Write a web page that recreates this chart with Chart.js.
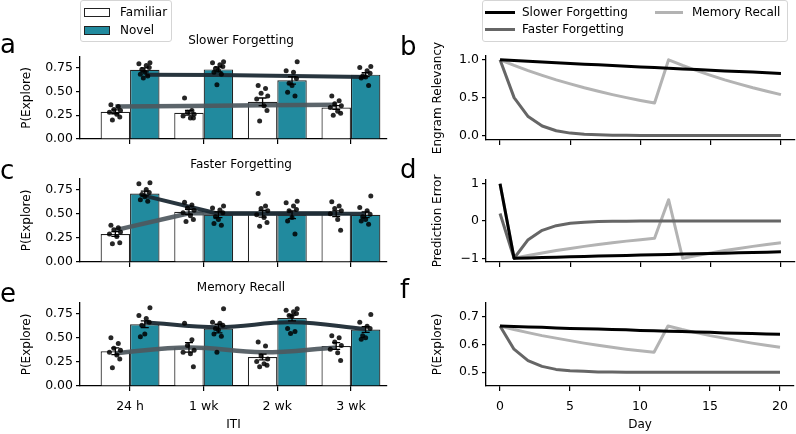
<!DOCTYPE html>
<html><head><meta charset="utf-8">
<script src="https://cdn.jsdelivr.net/npm/chart.js@4.4.1/dist/chart.umd.min.js"></script>
<style>
html,body{margin:0;padding:0;background:#fff;}
#wrap{position:relative;width:796px;height:434px;overflow:hidden;font-family:"DejaVu Sans",sans-serif;color:#000;background:#fff;}
canvas{position:absolute;left:0;top:0;}
.t{position:absolute;font-size:12px;line-height:14px;white-space:nowrap;}
.ttl{position:absolute;font-size:12px;line-height:14px;white-space:nowrap;width:200px;text-align:center;}
.letter{position:absolute;font-size:26px;line-height:26px;font-family:"DejaVu Sans",sans-serif;}
.leg{position:absolute;border:1px solid #d5d5d5;border-radius:3px;background:rgba(255,255,255,0.85);box-sizing:border-box;}
.sw{position:absolute;box-sizing:border-box;}
</style></head><body><div id="wrap">
<canvas id="ca" width="796" height="434"></canvas>
<canvas id="cc" width="796" height="434"></canvas>
<canvas id="ce" width="796" height="434"></canvas>
<canvas id="cb" width="796" height="434"></canvas>
<canvas id="cd" width="796" height="434"></canvas>
<canvas id="cf" width="796" height="434"></canvas>

<div class="leg" style="left:80px;top:0px;width:92px;height:42px;"></div>
<div class="sw" style="left:84px;top:8px;width:26px;height:9px;background:#fff;border:1px solid #222;"></div>
<div class="t" style="left:120px;top:5px;">Familiar</div>
<div class="sw" style="left:84px;top:26px;width:26px;height:9px;background:#218a9e;border:1px solid #222;"></div>
<div class="t" style="left:120px;top:23px;">Novel</div>

<div class="leg" style="left:482px;top:0px;width:306px;height:42px;"></div>
<div class="sw" style="left:485px;top:11px;width:30px;height:3px;background:#000;"></div>
<div class="t" style="left:522px;top:5px;">Slower Forgetting</div>
<div class="sw" style="left:485px;top:28px;width:30px;height:3px;background:#666;"></div>
<div class="t" style="left:522px;top:22px;">Faster Forgetting</div>
<div class="sw" style="left:655px;top:11px;width:28px;height:3px;background:#b3b3b3;"></div>
<div class="t" style="left:692px;top:5px;">Memory Recall</div>

<div class="ttl" style="left:141px;top:33px;">Slower Forgetting</div>
<div class="ttl" style="left:141px;top:157px;">Faster Forgetting</div>
<div class="ttl" style="left:141px;top:280px;">Memory Recall</div>

<div class="letter" style="left:0px;top:31px;">a</div>
<div class="letter" style="left:400px;top:33px;">b</div>
<div class="letter" style="left:0px;top:157px;">c</div>
<div class="letter" style="left:400px;top:156px;">d</div>
<div class="letter" style="left:0px;top:280px;">e</div>
<div class="letter" style="left:400px;top:276px;">f</div>
</div>
<script>
// ---------- data ----------
const itiLabels = ['24 h', '1 wk', '2 wk', '3 wk'];
const jitter = [-0.06, 0.04, -0.02, 0.07, -0.08, 0.02, 0.06, -0.04, 0.0];

// Panel a: Slower Forgetting
const slowFamMean = [0.285, 0.275, 0.39, 0.33];
const slowNovMean = [0.725, 0.73, 0.615, 0.675];
const slowFamSem = [0.02, 0.025, 0.04, 0.02];
const slowNovSem = [0.02, 0.025, 0.04, 0.02];
const slowFamDots = [[0.36,0.34,0.31,0.30,0.28,0.26,0.23,0.20],[0.43,0.30,0.28,0.26,0.24,0.22,0.22],[0.56,0.53,0.48,0.45,0.42,0.35,0.30,0.19],[0.45,0.40,0.37,0.35,0.33,0.29,0.27,0.25]];
const slowNovDots = [[0.80,0.79,0.77,0.75,0.73,0.70,0.68,0.66,0.64],[0.81,0.80,0.78,0.76,0.74,0.72,0.70,0.68,0.57],[0.81,0.715,0.70,0.635,0.586,0.56,0.49,0.45],[0.76,0.75,0.715,0.69,0.66,0.65,0.64,0.56]];
const slowFamModel = [0.34, 0.345, 0.355, 0.36];
const slowNovModel = [0.675, 0.67, 0.66, 0.65];

// Panel c: Faster Forgetting
const fastFamMean = [0.29, 0.52, 0.50, 0.50];
const fastNovMean = [0.71, 0.49, 0.49, 0.49];
const fastFamSem = [0.025, 0.025, 0.035, 0.03];
const fastNovSem = [0.025, 0.03, 0.04, 0.03];
const fastFamDots = [[0.38,0.355,0.335,0.31,0.29,0.265,0.20,0.19],[0.62,0.59,0.56,0.535,0.51,0.48,0.44,0.42],[0.71,0.58,0.555,0.53,0.49,0.46,0.41,0.37],[0.625,0.58,0.555,0.53,0.50,0.44,0.33]];
const fastNovDots = [[0.82,0.81,0.75,0.72,0.70,0.675,0.645,0.63],[0.58,0.56,0.54,0.51,0.47,0.44,0.40,0.38],[0.63,0.615,0.58,0.545,0.53,0.46,0.425,0.29],[0.685,0.565,0.53,0.495,0.47,0.44,0.425,0.39]];
const fastFamModel = [0.33, 0.505, 0.505, 0.505];
const fastNovModel = [0.685, 0.50, 0.50, 0.50];

// Panel e: Memory Recall
const recFamMean = [0.36, 0.40, 0.30, 0.415];
const recNovMean = [0.64, 0.595, 0.705, 0.585];
const recFamSem = [0.035, 0.05, 0.03, 0.035];
const recNovSem = [0.035, 0.045, 0.03, 0.03];
const recFamDots = [[0.50,0.44,0.39,0.37,0.35,0.32,0.28,0.19],[0.65,0.48,0.42,0.37,0.35,0.335,0.20],[0.455,0.415,0.31,0.28,0.255,0.23,0.215,0.20],[0.52,0.50,0.455,0.42,0.38,0.345,0.265]];
const recNovDots = [[0.81,0.73,0.70,0.66,0.63,0.54,0.51],[0.80,0.66,0.65,0.63,0.595,0.58,0.54,0.515,0.35],[0.80,0.785,0.77,0.75,0.73,0.725,0.595,0.565,0.545],[0.74,0.66,0.62,0.595,0.52,0.50,0.485]];
const recFamModel = [0.34, 0.40, 0.35, 0.40];
const recNovModel = [0.66, 0.61, 0.66, 0.59];

// Right panels (days)
const days = [0,1,2,3,4,5,6,7,8,9,10,11,12,13,14,15,16,17,18,19,20];
const relSlow = [1.00,0.99,0.98,0.97,0.96,0.95,0.94,0.933,0.924,0.915,0.906,0.897,0.888,0.879,0.87,0.862,0.853,0.845,0.837,0.828,0.82];
const relFast = [1.0,0.5,0.25,0.125,0.0625,0.031,0.016,0.008,0.004,0.002,0.001,0,0,0,0,0,0,0,0,0,0];
const relRecall = [1.0,0.926,0.857,0.794,0.735,0.681,0.630,0.584,0.540,0.500,0.463,0.429,1.0,0.926,0.857,0.794,0.735,0.681,0.630,0.584,0.540];
const peSlow = [1.0,-1.0,-0.99,-0.98,-0.97,-0.96,-0.95,-0.94,-0.933,-0.924,-0.915,-0.906,-0.897,-0.888,-0.879,-0.87,-0.862,-0.853,-0.845,-0.837,-0.828];
const peFast = [0.2,-1.0,-0.5,-0.25,-0.125,-0.0625,-0.031,-0.016,-0.008,-0.004,-0.002,-0.001,0,0,0,0,0,0,0,0,0];
const peRecall = [1.0,-1.0,-0.926,-0.857,-0.794,-0.735,-0.681,-0.630,-0.584,-0.540,-0.500,-0.463,0.571,-1.0,-0.926,-0.857,-0.794,-0.735,-0.681,-0.630,-0.584];
const pSlow = [0.667,0.665,0.663,0.662,0.660,0.658,0.657,0.656,0.654,0.653,0.651,0.650,0.648,0.647,0.645,0.644,0.642,0.641,0.640,0.638,0.637];
const pFast = [0.667,0.583,0.542,0.521,0.510,0.505,0.503,0.501,0.501,0.500,0.500,0.500,0.500,0.500,0.500,0.500,0.500,0.500,0.500,0.500,0.500];
const pRecall = [0.667,0.654,0.643,0.632,0.623,0.614,0.605,0.597,0.590,0.583,0.577,0.572,0.667,0.654,0.643,0.632,0.623,0.614,0.605,0.597,0.590];

const barYTicks = [0, 0.25, 0.5, 0.75];
const barYLabels = ['0.00', '0.25', '0.50', '0.75'];
const dayTicks = [0, 5, 10, 15, 20];
const dayLabels = ['0', '5', '10', '15', '20'];

// ---------- styling / helpers ----------
const FONT = "'DejaVu Sans', sans-serif";
Chart.defaults.font.family = FONT;
Chart.defaults.font.size = 12;
Chart.defaults.color = '#000';
Chart.defaults.animation = false;
Chart.defaults.plugins.legend.display = false;
Chart.defaults.plugins.tooltip.enabled = false;

const W = 796, H = 434;
const TEAL = '#218a9e';
const TICK_FONT = { size: 12.5 };

const errorBars = {
  id: 'errorBars',
  afterDatasetsDraw(chart) {
    const ctx = chart.ctx, ys = chart.scales.y;
    chart.data.datasets.forEach((ds, di) => {
      if (!ds.sem) return;
      const meta = chart.getDatasetMeta(di);
      meta.data.forEach((el, i) => {
        const m = ds.data[i].y, s = ds.sem[i];
        const x = el.x, y1 = ys.getPixelForValue(m - s), y2 = ys.getPixelForValue(m + s);
        ctx.save();
        ctx.strokeStyle = '#000'; ctx.lineWidth = 1.3;
        ctx.beginPath();
        ctx.moveTo(x, y1); ctx.lineTo(x, y2);
        ctx.moveTo(x - 4, y1); ctx.lineTo(x + 4, y1);
        ctx.moveTo(x - 4, y2); ctx.lineTo(x + 4, y2);
        ctx.stroke();
        ctx.restore();
      });
    });
  }
};

function axisCommon() {
  return {
    grid: { display: true, drawOnChartArea: false, drawTicks: true, tickLength: 4, color: '#000', lineWidth: 1.2, offset: false },
    border: { display: true, color: '#000', width: 1.3 }
  };
}

function yAxis(min, max, tickVals, tickLabels, title, boxLeft, chartLeft, titleCx) {
  return Object.assign(axisCommon(), {
    type: 'linear', position: 'left', min, max,
    afterFit: s => { s.width = chartLeft - boxLeft; },
    afterBuildTicks: s => { s.ticks = tickVals.map(v => ({ value: v })); },
    ticks: { callback: (v, i) => tickLabels[i], padding: 3, font: TICK_FONT, color: '#000' },
    title: { display: true, text: title, font: { size: 12 }, color: '#000', padding: { top: titleCx - boxLeft - 7.2, bottom: 0 } }
  });
}

function xAxis(min, max, tickVals, tickLabels, showLabels, title, height) {
  const a = axisCommon();
  a.grid.tickLength = 5;
  return Object.assign(a, {
    type: 'linear', position: 'bottom', min, max, offset: false,
    afterFit: s => { s.height = height; },
    afterBuildTicks: s => { s.ticks = tickVals.map(v => ({ value: v })); },
    ticks: { display: showLabels, callback: (v, i) => tickLabels[i], padding: 8, autoSkip: false, maxRotation: 0, font: TICK_FONT, color: '#000' },
    title: { display: showLabels, text: title, font: { size: 12 }, color: '#000', padding: { top: 0, bottom: 2 } }
  });
}

function barPanel(id, d, top, bottom, showX, tension) {
  const left = 80, right = 387;
  const xH = showX ? H - bottom : 10;
  const dots = [];
  d.famDots.forEach((arr, i) => arr.forEach((v, k) => dots.push({ x: i - 0.2 + jitter[k % jitter.length], y: v })));
  d.novDots.forEach((arr, i) => arr.forEach((v, k) => dots.push({ x: i + 0.2 + jitter[(k + 3) % jitter.length], y: v })));
  new Chart(document.getElementById(id), {
    type: 'bar',
    data: {
      datasets: [
        { type: 'scatter', data: dots, pointRadius: 2.5, pointBackgroundColor: 'rgba(0,0,0,0.85)', pointBorderWidth: 0, order: 0 },
        { type: 'line', data: d.novModel.map((v, i) => ({ x: i + 0.2, y: v })), borderColor: 'rgba(28,42,52,0.95)', borderWidth: 4, pointRadius: 0, tension, borderJoinStyle: 'round', order: 1 },
        { type: 'line', data: d.famModel.map((v, i) => ({ x: i - 0.2, y: v })), borderColor: 'rgba(78,88,94,0.92)', borderWidth: 4.5, pointRadius: 0, tension, borderJoinStyle: 'round', order: 2 },
        { type: 'bar', label: 'Familiar', data: d.fam.map((v, i) => ({ x: i, y: v })), sem: d.famSem, backgroundColor: '#ffffff', borderColor: '#222', borderWidth: 1.2, borderSkipped: 'start', categoryPercentage: 0.8, barPercentage: 1.0, order: 3 },
        { type: 'bar', label: 'Novel', data: d.nov.map((v, i) => ({ x: i, y: v })), sem: d.novSem, backgroundColor: TEAL, borderColor: '#222', borderWidth: 1.2, borderSkipped: 'start', categoryPercentage: 0.8, barPercentage: 1.0, order: 3 }
      ]
    },
    options: {
      responsive: false, devicePixelRatio: 1,
      layout: { padding: { left: 0, right: W - right, top: top, bottom: H - bottom - xH } },
      scales: {
        x: xAxis(-0.68, 3.49, [0, 1, 2, 3], itiLabels, showX, 'ITI', xH),
        y: yAxis(0, 0.86, barYTicks, barYLabels, 'P(Explore)', 0, left, 27)
      }
    },
    plugins: [errorBars]
  });
}

function linePanel(id, s1, s2, s3, ymin, ymax, yTicks, yLabels, ytitle, top, bottom, showX) {
  const left = 486, right = 795, boxLeft = 400;
  const xH = showX ? H - bottom : 10;
  const pts = arr => days.map((d, i) => ({ x: d, y: arr[i] }));
  new Chart(document.getElementById(id), {
    type: 'line',
    data: {
      datasets: [
        { label: 'Slower Forgetting', data: pts(s1), borderColor: '#000', borderWidth: 3, pointRadius: 0, order: 0, borderJoinStyle: 'round' },
        { label: 'Faster Forgetting', data: pts(s2), borderColor: '#666', borderWidth: 3, pointRadius: 0, order: 1, borderJoinStyle: 'round' },
        { label: 'Memory Recall', data: pts(s3), borderColor: '#b3b3b3', borderWidth: 3, pointRadius: 0, order: 2, borderJoinStyle: 'round' }
      ]
    },
    options: {
      responsive: false, devicePixelRatio: 1,
      layout: { padding: { left: boxLeft, right: W - right, top: top, bottom: H - bottom - xH } },
      scales: {
        x: xAxis(-1, 21, dayTicks, dayLabels, showX, 'Day', xH),
        y: yAxis(ymin, ymax, yTicks, yLabels, ytitle, boxLeft, left, 438)
      }
    }
  });
}

barPanel('ca', { fam: slowFamMean, nov: slowNovMean, famSem: slowFamSem, novSem: slowNovSem, famDots: slowFamDots, novDots: slowNovDots, famModel: slowFamModel, novModel: slowNovModel }, 57, 139, false, 0);
barPanel('cc', { fam: fastFamMean, nov: fastNovMean, famSem: fastFamSem, novSem: fastNovSem, famDots: fastFamDots, novDots: fastNovDots, famModel: fastFamModel, novModel: fastNovModel }, 179, 262, false, 0);
barPanel('ce', { fam: recFamMean, nov: recNovMean, famSem: recFamSem, novSem: recNovSem, famDots: recFamDots, novDots: recNovDots, famModel: recFamModel, novModel: recNovModel }, 303, 386, true, 0.4);

linePanel('cb', relSlow, relFast, relRecall, -0.06, 1.05, [0, 0.5, 1.0], ['0.0', '0.5', '1.0'], 'Engram Relevancy', 56, 140, false);
linePanel('cd', peSlow, peFast, peRecall, -1.1, 1.1, [-1, 0, 1], ['\u22121', '0', '1'], 'Prediction Error', 180, 262, false);
linePanel('cf', pSlow, pFast, pRecall, 0.45, 0.75, [0.5, 0.6, 0.7], ['0.5', '0.6', '0.7'], 'P(Explore)', 303, 386, true);
</script>
</body></html>
